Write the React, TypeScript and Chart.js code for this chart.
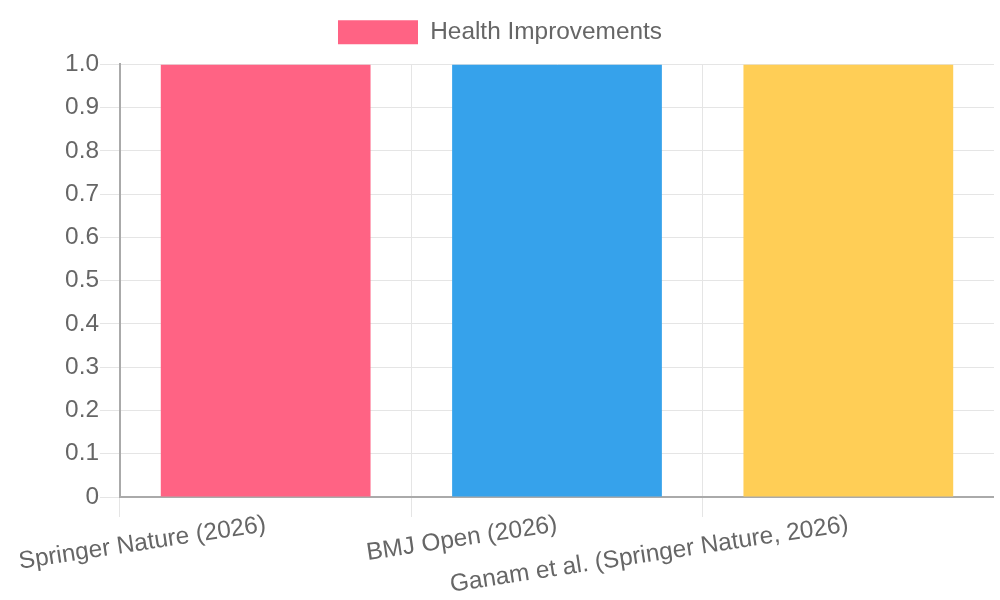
import React, { useEffect, useRef } from 'react';
import { Chart, registerables } from 'chart.js';

Chart.register(...registerables);

const sources = [
  'Springer Nature (2026)',
  'BMJ Open (2026)',
  'Ganam et al. (Springer Nature, 2026)',
];
const healthImprovements = [1, 1, 1];
const barColors = ['#ff6384', '#36a2eb', '#ffce56'];

const fontFamily = '"Liberation Sans", Arial, sans-serif';
const fontSize = 24.4;

// push the plot a bit further below the legend
const legendMargin = {
  id: 'legendMargin',
  beforeInit(chart: any) {
    const origFit = chart.legend.fit;
    chart.legend.fit = function () {
      origFit.bind(chart.legend)();
      this.height += 10;
    };
  },
};

export default function App() {
  const chartRef = useRef<HTMLCanvasElement>(null);
  const chartInstance = useRef<Chart | null>(null);

  useEffect(() => {
    if (!chartRef.current) return;
    if (chartInstance.current) {
      chartInstance.current.destroy();
    }

    chartInstance.current = new Chart(chartRef.current, {
      type: 'bar',
      data: {
        labels: sources,
        datasets: [
          {
            label: 'Health Improvements',
            data: healthImprovements,
            backgroundColor: barColors,
            borderWidth: 0,
          },
        ],
      },
      options: {
        responsive: true,
        maintainAspectRatio: false,
        animation: false,
        plugins: {
          legend: {
            display: true,
            position: 'top',
            labels: {
              color: '#666',
              boxWidth: 80,
              boxHeight: 24,
              padding: 12,
              font: { family: fontFamily, size: fontSize },
            },
          },
          tooltip: { enabled: false },
        },
        scales: {
          x: {
            grid: { color: '#e5e5e5', tickLength: 20 },
            border: { color: '#aaa', width: 2 },
            ticks: {
              color: '#666',
              padding: -7,
              font: { family: fontFamily, size: fontSize },
            },
            afterFit: (scale: any) => {
              scale.height = 103;
            },
          },
          y: {
            beginAtZero: true,
            grid: { color: '#e5e5e5', tickLength: 20 },
            border: { color: '#aaa', width: 2 },
            ticks: {
              color: '#666',
              padding: 1,
              font: { family: fontFamily, size: fontSize },
            },
            afterFit: (scale: any) => {
              scale.width = 114;
            },
          },
        },
      },
      plugins: [legendMargin],
    });

    return () => {
      if (chartInstance.current) {
        chartInstance.current.destroy();
        chartInstance.current = null;
      }
    };
  }, []);

  return (
    <div style={{ position: 'fixed', left: 6, top: 8, width: 988, height: 592 }}>
      <canvas ref={chartRef} />
    </div>
  );
}
